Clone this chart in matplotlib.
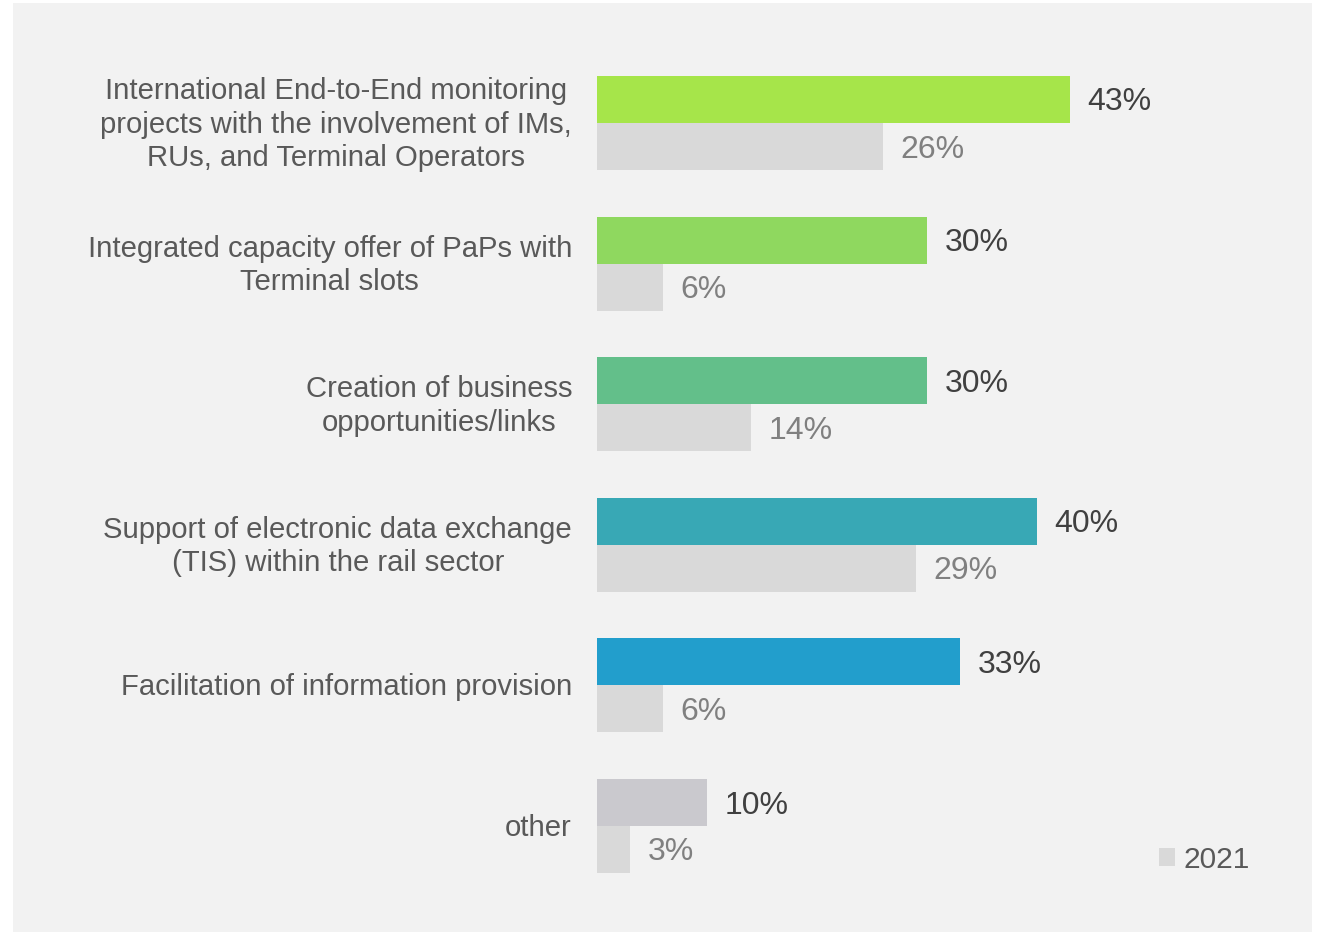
import matplotlib.pyplot as plt
from matplotlib.patches import Rectangle

plt.rcParams["font.family"] = ["Liberation Sans", "DejaVu Sans"]

# DATA
categories = [
    "International End-to-End monitoring\nprojects with the involvement of IMs,\nRUs, and Terminal Operators",
    "Integrated capacity offer of PaPs with\nTerminal slots",
    "Creation of business\nopportunities/links",
    "Support of electronic data exchange\n(TIS) within the rail sector",
    "Facilitation of information provision",
    "other",
]
values_current = [43, 30, 30, 40, 33, 10]
values_2021 = [26, 6, 14, 29, 6, 3]
bar_colors = ["#a6e54a", "#8fd85f", "#63bf8a", "#38a8b5", "#229ecc", "#cac9ce"]
legend_label = "2021"

GREY_BAR = "#d9d9d9"
PANEL = "#f2f2f2"
W, H = 1325, 932

fig = plt.figure(figsize=(W / 100, H / 100), dpi=100)
fig.patch.set_facecolor("white")
fig.add_artist(Rectangle((13 / W, 0), (1312 - 13) / W, (H - 3) / H,
                         transform=fig.transFigure, facecolor=PANEL,
                         edgecolor="none", zorder=0))

# axes: x zero at 597 px, 11 px per percent; full figure height
ax = fig.add_axes([597 / W, 0, 660 / W, 1])
ax.set_facecolor("none")
ax.set_xlim(0, 60)

gap = 140.6
first = 123
ax.set_ylim((H - first) / gap, -first / gap)

h = 47 / gap
n = len(categories)
ys = list(range(n))
ax.barh([y - h / 2 for y in ys], values_current, height=h, color=bar_colors)
ax.barh([y + h / 2 for y in ys], values_2021, height=h, color=GREY_BAR,
        label=legend_label)

# value labels, nudged a few px down to sit on the bar centre
nudge = 3 / gap
for y, v in zip(ys, values_current):
    ax.text(v + 1.6, y - h / 2 + nudge, f"{v}%", va="center", ha="left",
            fontsize=23, color="#404040")
for y, v in zip(ys, values_2021):
    ax.text(v + 1.6, y + h / 2 + nudge, f"{v}%", va="center", ha="left",
            fontsize=23, color="#808080")

# category labels, right edge 25 px left of the bars
for y, cat in zip(ys, categories):
    ax.annotate(cat, xy=(0, y), xytext=(-18, -1.2), textcoords="offset points",
                ha="right", va="center", multialignment="center",
                fontsize=21.1, color="#595959", linespacing=1.24)

ax.set_yticks([])
ax.set_xticks([])
for s in ax.spines.values():
    s.set_visible(False)

fig.legend(loc="center left", bbox_to_anchor=(1159 / W, 1 - 860 / H),
           frameon=False, fontsize=21.5, handlelength=0.55, handleheight=0.55,
           handletextpad=0.28, borderpad=0, borderaxespad=0,
           labelcolor="#595959")

fig.savefig("out.png", dpi=100, facecolor=fig.get_facecolor())
